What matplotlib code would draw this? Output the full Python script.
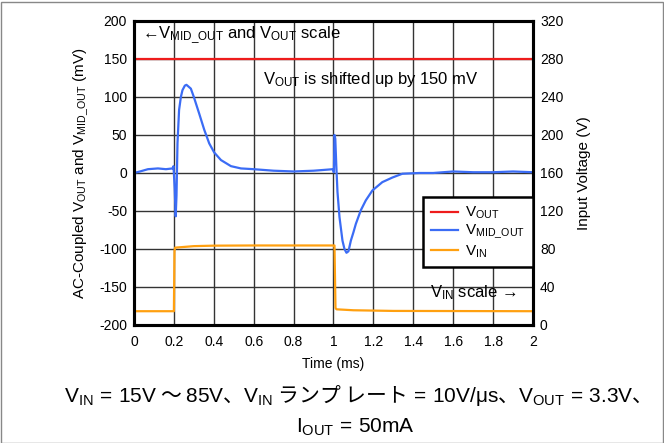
import matplotlib
matplotlib.use("Agg")
import matplotlib.pyplot as plt
from matplotlib.patches import Rectangle

plt.rcParams['font.family'] = ['Liberation Sans', 'Noto Sans CJK JP']
plt.rcParams['mathtext.fontset'] = 'custom'
plt.rcParams['mathtext.rm'] = 'Liberation Sans'
plt.rcParams['mathtext.it'] = 'Liberation Sans:italic'
plt.rcParams['axes.unicode_minus'] = False

# V_MID_OUT trace (ms, mV)
t_mid = [0.0, 0.03, 0.07, 0.12, 0.16, 0.193, 0.198, 0.204, 0.209, 0.213, 0.218, 0.226,
         0.235, 0.243, 0.255, 0.263, 0.272, 0.285, 0.3, 0.327, 0.352, 0.377, 0.402,
         0.436, 0.486, 0.536, 0.6, 0.7, 0.8, 0.9, 0.95, 0.997, 1.002, 1.005, 1.009,
         1.014, 1.02, 1.03, 1.045, 1.055, 1.065, 1.075, 1.087, 1.1, 1.112, 1.137,
         1.162, 1.195, 1.245, 1.295, 1.345, 1.43, 1.5, 1.6, 1.7, 1.8, 1.9, 2.0]
v_mid = [0, 2, 5, 6, 5, 6, 9, -20, -57, -30, 39, 83,
         100, 109, 115, 116, 114, 111, 100, 78, 57, 39, 27,
         17, 9, 6, 5, 3, 2, 3, 4, 5, 1, 50, 45,
         10, -25, -58, -89, -100, -105, -103, -89, -78, -67, -49,
         -36, -23, -12, -6, -1, 0, 0, 2, 1, 1, 2, 1]

# V_OUT trace, shifted up by 150 mV
t_out = [0.0, 2.0]
v_out = [150, 150]

# V_IN trace (ms, V) on right scale
t_in = [0.0, 0.2, 0.203, 0.206, 0.3, 0.4, 0.6, 1.0, 1.005, 1.01, 1.015, 1.1, 1.3, 2.0]
v_in = [14.5, 14.5, 78, 81.4, 83, 83.5, 83.7, 83.7, 83.7, 18, 16.5, 15.5, 14.8, 14.5]

x_ticks = [0, 0.2, 0.4, 0.6, 0.8, 1, 1.2, 1.4, 1.6, 1.8, 2]
x_tick_labels = ['0', '0.2', '0.4', '0.6', '0.8', '1', '1.2', '1.4', '1.6', '1.8', '2']
left_ticks = [-200, -150, -100, -50, 0, 50, 100, 150, 200]
right_ticks = [0, 40, 80, 120, 160, 200, 240, 280, 320]

fig = plt.figure(figsize=(6.64, 4.43), dpi=100)
ax = fig.add_axes([0.2018, 0.2664, 0.6009, 0.6862])
ax2 = ax.twinx()

ax.set_xlim(0, 2)
ax.set_ylim(-200, 200)
ax2.set_ylim(0, 320)
ax.set_xticks(x_ticks)
ax.set_xticklabels(x_tick_labels)
ax.set_yticks(left_ticks)
ax2.set_yticks(right_ticks)
ax.grid(True, color='#333333', lw=1.0)
ax.set_axisbelow(True)
for a in (ax, ax2):
    a.tick_params(length=0, labelsize=10, pad=5)
    for s in a.spines.values():
        s.set_linewidth(2.2)
ax.tick_params(axis='x', pad=7)

l_out, = ax.plot(t_out, v_out, color='#ee1c1c', lw=1.6, label=r'$\mathrm{V_{OUT}}$')
l_mid, = ax.plot(t_mid, v_mid, color='#3b6cf5', lw=1.6, label=r'$\mathrm{V_{MID\_OUT}}$')
l_in, = ax2.plot(t_in, v_in, color='#ffa010', lw=1.6, label=r'$\mathrm{V_{IN}}$')

leg = ax2.legend(handles=[l_out, l_mid, l_in], loc='lower right', bbox_to_anchor=(1.0, 0.19),
                 fontsize=11, fancybox=False, framealpha=1, edgecolor='black',
                 handlelength=1.8, handletextpad=0.45, borderpad=0.5, labelspacing=0.12,
                 borderaxespad=0)
leg.get_frame().set_linewidth(1.8)

ax.set_xlabel('Time (ms)', fontsize=10, labelpad=6)
ax.set_ylabel(r'AC-Coupled $\mathrm{V_{OUT}}$ and $\mathrm{V_{MID\_OUT}}$ (mV)', fontsize=11, labelpad=6)
ax2.set_ylabel('Input Voltage (V)', fontsize=11, labelpad=10)

ax.text(0.02, 0.954, r'←$\mathrm{V_{MID\_OUT}}$ and $\mathrm{V_{OUT}}$ scale', transform=ax.transAxes,
        fontsize=12, va='center', ha='left')
ax.text(0.324, 0.806, r'$\mathrm{V_{OUT}}$ is shifted up by 150 mV', transform=ax.transAxes,
        fontsize=12, va='center', ha='left')
ax.text(0.741, 0.105, r'$\mathrm{V_{IN}}$ scale →', transform=ax.transAxes,
        fontsize=12, va='center', ha='left')

cap1 = (r'$\mathrm{V_{IN}\,=\,15V}$ ～ $\mathrm{85V}$、$\mathrm{V_{IN}}$ ランプ レート'
        r'$\mathrm{\,=\,10V/μs}$、$\mathrm{V_{OUT}\,=\,3.3V}$、')
cap2 = r'$\mathrm{I_{OUT}\,=\,50mA}$'
fig.text(0.53, 1 - 402 / 443, cap1, fontsize=15, ha='center', va='baseline', family='Noto Sans CJK JP')
fig.text(0.535, 1 - 433 / 443, cap2, fontsize=15, ha='center', va='baseline', family='Noto Sans CJK JP')

fig.patches.append(Rectangle((0.001, 0.0), 0.997, 0.996, transform=fig.transFigure,
                             fill=False, edgecolor='#888888', lw=1.0))

fig.savefig('out.png', dpi=100)
